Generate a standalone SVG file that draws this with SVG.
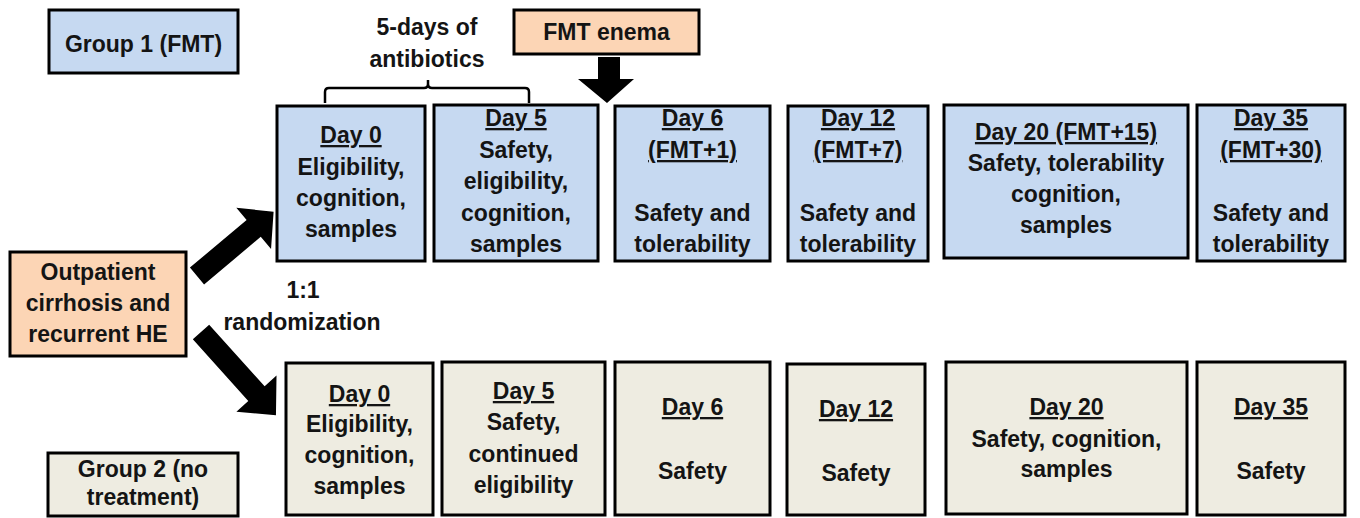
<svg xmlns="http://www.w3.org/2000/svg" width="1360" height="518" viewBox="0 0 1360 518">
<defs>
<style>
text{font-family:"Liberation Sans",Arial,sans-serif;font-weight:bold;font-size:23px;fill:#141414;text-anchor:middle}
.u{text-decoration:underline}
.box{stroke:#000;stroke-width:3}
.blue{fill:#c6d9f1}
.tan{fill:#eeece1}
.org{fill:#fcd5b5}
.arrow{fill:#000}
.brace{fill:none;stroke:#000;stroke-width:2.5;stroke-linejoin:round}
</style>
<polygon id="blk" points="0,-11 74,-11 74,-27 100,0 74,27 74,11 0,11"/>
</defs>
<rect width="1360" height="518" fill="#fff"/>

<g id="group1">
<rect class="box blue" x="49" y="10" width="189" height="63"/>
<text x="143.5" y="52">Group 1 (FMT)</text>
</g>

<g id="antibiotics">
<text x="427" y="35">5-days of</text>
<text x="427" y="67">antibiotics</text>
<path class="brace" d="M325,103 V92 Q325,88 329,88 H424 Q428,88 428,84 V80 M428,84 Q428,88 432,88 H525 Q529,88 529,92 V103"/>
</g>

<g id="fmt-enema">
<rect class="box org" x="514" y="10" width="185" height="44"/>
<text x="606.5" y="40">FMT enema</text>
</g>

<g id="outpatient">
<rect class="box org" x="10" y="252" width="176" height="104"/>
<text x="98" y="280">Outpatient</text>
<text x="98" y="311">cirrhosis and</text>
<text x="98" y="342">recurrent HE</text>
</g>

<g id="randomization">
<text x="303" y="298">1:1</text>
<text x="302" y="330">randomization</text>
</g>

<g id="group2">
<rect class="box tan" x="48" y="453" width="190" height="63"/>
<text x="143" y="477">Group 2 (no</text>
<text x="143" y="505">treatment)</text>
</g>

<g id="connectors">
<polygon class="arrow" points="598,57 620,57 620,79 634,79 607,103 578,79 598,79"/>
<use href="#blk" transform="translate(197,276) rotate(-40)"/>
<use href="#blk" transform="translate(201,332) rotate(48) scale(1.12,1)"/>
</g>

<g id="t-day0">
<rect class="box blue" x="277" y="106" width="148" height="155"/>
<text class="u" x="351" y="143">Day 0</text>
<text x="351" y="175">Eligibility,</text>
<text x="351" y="206">cognition,</text>
<text x="351" y="237">samples</text>
</g>

<g id="t-day5">
<rect class="box blue" x="434" y="105" width="164" height="156"/>
<text class="u" x="516" y="126">Day 5</text>
<text x="516" y="158">Safety,</text>
<text x="516" y="189">eligibility,</text>
<text x="516" y="221">cognition,</text>
<text x="516" y="252">samples</text>
</g>

<g id="t-day6">
<rect class="box blue" x="615" y="106" width="155" height="155"/>
<text class="u" x="692.5" y="126">Day 6</text>
<text class="u" x="692.5" y="158">(FMT+1)</text>
<text x="692.5" y="221">Safety and</text>
<text x="692.5" y="252">tolerability</text>
</g>

<g id="t-day12">
<rect class="box blue" x="788" y="106" width="140" height="155"/>
<text class="u" x="858" y="126">Day 12</text>
<text class="u" x="858" y="158">(FMT+7)</text>
<text x="858" y="221">Safety and</text>
<text x="858" y="252">tolerability</text>
</g>

<g id="t-day20">
<rect class="box blue" x="944" y="105" width="244" height="153"/>
<text class="u" x="1066" y="140">Day 20 (FMT+15)</text>
<text x="1066" y="171">Safety, tolerability</text>
<text x="1066" y="202">cognition,</text>
<text x="1066" y="233">samples</text>
</g>

<g id="t-day35">
<rect class="box blue" x="1197" y="105" width="148" height="156"/>
<text class="u" x="1271" y="126">Day 35</text>
<text class="u" x="1271" y="158">(FMT+30)</text>
<text x="1271" y="221">Safety and</text>
<text x="1271" y="252">tolerability</text>
</g>

<g id="b-day0">
<rect class="box tan" x="286" y="363" width="147" height="152"/>
<text class="u" x="359.5" y="402">Day 0</text>
<text x="359.5" y="432">Eligibility,</text>
<text x="359.5" y="463">cognition,</text>
<text x="359.5" y="494">samples</text>
</g>

<g id="b-day5">
<rect class="box tan" x="442" y="362" width="163" height="153"/>
<text class="u" x="523.5" y="399">Day 5</text>
<text x="523.5" y="430">Safety,</text>
<text x="523.5" y="462">continued</text>
<text x="523.5" y="493">eligibility</text>
</g>

<g id="b-day6">
<rect class="box tan" x="615" y="362" width="155" height="153"/>
<text class="u" x="692.5" y="415">Day 6</text>
<text x="692.5" y="479">Safety</text>
</g>

<g id="b-day12">
<rect class="box tan" x="787" y="364" width="138" height="151"/>
<text class="u" x="856" y="417">Day 12</text>
<text x="856" y="481">Safety</text>
</g>

<g id="b-day20">
<rect class="box tan" x="946" y="362" width="241" height="152"/>
<text class="u" x="1066.5" y="415">Day 20</text>
<text x="1066.5" y="447">Safety, cognition,</text>
<text x="1066.5" y="477">samples</text>
</g>

<g id="b-day35">
<rect class="box tan" x="1197" y="362" width="148" height="153"/>
<text class="u" x="1271" y="415">Day 35</text>
<text x="1271" y="479">Safety</text>
</g>
</svg>
